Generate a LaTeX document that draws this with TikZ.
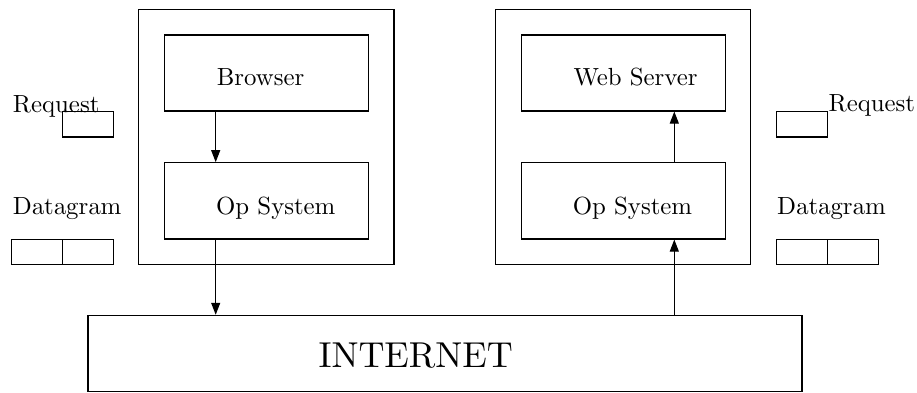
\documentclass[tikz,border=0pt]{standalone}
\usetikzlibrary{arrows.meta}
\font\txtfont=cmr10 at 24.8pt
\font\netfont=cmr10 at 36pt
\begin{document}
\begin{tikzpicture}[x=1pt,y=-1pt,
  box/.style={draw, line width=1.1pt, inner sep=0pt, rectangle},
  txt/.style={anchor=base west, inner sep=0pt, font=\txtfont},
  bigtxt/.style={anchor=base west, inner sep=0pt, font=\netfont},
  arr/.style={line width=1.1pt, -{Triangle[length=12pt,width=9pt]}}]
\useasboundingbox (0,0) rectangle (917,393);
% outer boxes
\node[box, minimum width=255.3pt, minimum height=254.6pt] (outerL) at (266.35,137) {};
\node[box, minimum width=255pt, minimum height=254.6pt] (outerR) at (623.2,137) {};
% inner boxes
\node[box, minimum width=204.4pt, minimum height=76pt] (browser) at (266.5,73) {};
\node[box, minimum width=204.4pt, minimum height=76.3pt] (opL) at (266.5,200.85) {};
\node[box, minimum width=204pt, minimum height=76pt] (web) at (623.3,73) {};
\node[box, minimum width=204pt, minimum height=76.3pt] (opR) at (623.3,200.85) {};
\node[box, minimum width=714pt, minimum height=76.4pt] (internet) at (445,353.5) {};
% small boxes
\node[box, minimum width=51pt, minimum height=25.3pt] (reqL) at (88.2,124.35) {};
\node[box, minimum width=51pt, minimum height=25pt] (dgL1) at (37.2,251.8) {};
\node[box, minimum width=51pt, minimum height=25pt] (dgL2) at (88.2,251.8) {};
\node[box, minimum width=51pt, minimum height=25.3pt] (reqR) at (801.8,124.35) {};
\node[box, minimum width=51pt, minimum height=25pt] (dgR1) at (801.8,251.8) {};
\node[box, minimum width=51pt, minimum height=25pt] (dgR2) at (852.8,251.8) {};
% texts
\node[txt] (tBrowser) at (216.7,86) {Browser};
\node[txt] (tOpL) at (216,214) {Op System};
\node[txt] (tWeb) at (573.3,85.7) {Web Server};
\node[txt] (tOpR) at (572.7,214) {Op System};
\node[bigtxt] (tNet) at (318.3,367) {INTERNET};
\node[txt] (tReqL) at (12.7,112.5) {Request};
\node[txt] (tDgL) at (12.7,214) {Datagram};
\node[txt] (tReqR) at (828.3,112) {Request};
\node[txt] (tDgR) at (777,214) {Datagram};
% arrows
\coordinate (lx) at (215.7,0);
\coordinate (rx) at (674.3,0);
\draw[arr] (browser.south -| lx) -- (opL.north -| lx);
\draw[arr] (opL.south -| lx) -- (internet.north -| lx);
\draw[arr] (internet.north -| rx) -- (opR.south -| rx);
\draw[arr] (opR.north -| rx) -- (web.south -| rx);
\end{tikzpicture}
\end{document}
